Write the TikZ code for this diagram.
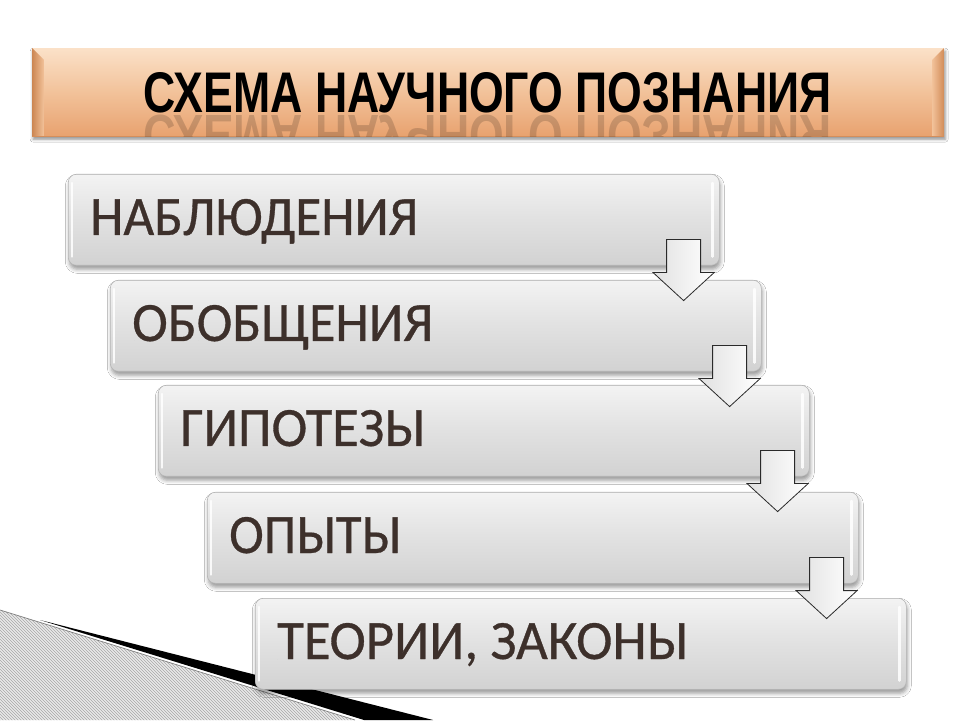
\documentclass[tikz,border=0pt]{standalone}
\usepackage{fontspec}
\setmainfont{Carlito}
\newfontfamily\boxfont[FakeBold=0.6]{Carlito}
\newfontfamily\titlefont{Liberation Sans}
\usetikzlibrary{calc,patterns,shadows.blur}
\definecolor{bantop}{HTML}{FBE1C8}
\definecolor{banmid}{HTML}{F2C29A}
\definecolor{banbot}{HTML}{E8A26F}
\definecolor{banedge}{HTML}{CC8652}
\definecolor{boxtop}{HTML}{F3F3F3}
\definecolor{boxmid}{HTML}{E1E1E1}
\definecolor{boxbot}{HTML}{D2D2D2}
\definecolor{boxline}{HTML}{B5B5B5}
\definecolor{txtcol}{HTML}{3D302B}
\definecolor{hatchbg}{HTML}{E9E9E9}
\definecolor{hatchln}{HTML}{A8A8A8}
\definecolor{arrline}{HTML}{2A2A2A}
\newcommand\blockarrow[1]{%
  \draw[blockarr] ($(#1)+(-17,0)$) -- ++(34,0) -- ++(0,-33) -- ++(13.5,0)
    -- ++(-30.5,-28) -- ++(-30.5,28) -- ++(13.5,0) -- cycle;}
\newcommand\boxtext[2]{\resizebox{#1pt}{36pt}{\boxfont #2}}
\newcommand\titletext{\resizebox{688pt}{40pt}{\titlefont\bfseries СХЕМА НАУЧНОГО ПОЗНАНИЯ}}
\begin{document}
\begin{tikzpicture}[x=1pt,y=1pt,
  banner/.style={anchor=north west, inner sep=0, minimum width=912pt, minimum height=88pt,
    top color=bantop, bottom color=banbot, middle color=banmid,
    blur shadow={shadow xshift=1pt, shadow yshift=-3pt, shadow blur radius=3pt, shadow opacity=45}},
  gbox/.style={anchor=north west, inner sep=0, minimum width=651pt, minimum height=91pt,
    rounded corners=8pt, draw=boxline, line width=.6pt,
    top color=boxtop, bottom color=boxbot, middle color=boxmid,
    blur shadow={shadow xshift=1pt, shadow yshift=-4pt, shadow blur radius=4pt, shadow opacity=40}},
  lbl/.style={anchor=base west, inner sep=0, text=txtcol, font=\fontsize{56}{60}\selectfont},
  hilite/.style={white, line width=2.4pt, line cap=round, opacity=.85},
  blockarr/.style={draw=arrline, line width=.8pt, left color=boxmid, right color=white}
]
\useasboundingbox (0,0) rectangle (960,720);
\fill[white] (0,0) rectangle (960,720);

% bottom-left decoration
\fill[hatchbg] (0,110) -- (355,0) -- (0,0) -- cycle;
\fill[pattern=north west lines, pattern color=hatchln] (0,110) -- (355,0) -- (0,0) -- cycle;
\draw[gray, line width=.7pt] (0,110) -- (355,0);
\fill[black] (40,100) -- (433,0) -- (364,0) -- cycle;

% title banner
\node[banner] (banner) at (32,672) {};
\shade[left color=banedge, right color=banmid] (32,672) -- (44,660) -- (44,584) -- (32,584) -- cycle;
\shade[left color=banmid, right color=banedge!80!banbot] (932,660) -- (944,672) -- (944,584) -- (932,584) -- cycle;
\draw[banedge!70!banbot, line width=.8pt] (banner.south west) -- (banner.south east);
\node[anchor=base west, inner sep=0] (title) at (143,607) {\titletext};
\begin{scope}
  \clip (banner.north west) rectangle (banner.south east);
  \node[anchor=base west, inner sep=0, opacity=.16] (titlerefl) at (143,604)
    {\scalebox{1}[-1]{\titletext}};
\end{scope}

% boxes
\node[gbox] (b1) at (68,546) {};
\node[gbox] (b2) at (110,440) {};
\node[gbox] (b3) at (158,335) {};
\node[gbox] (b4) at (207,228) {};
\node[gbox] (b5) at (255,122) {};
\foreach \n in {b1,b2,b3,b4,b5}{
  \draw[hilite] ($(\n.north west)+(4,-9)$) -- ($(\n.south west)+(4,9)$);
  \draw[hilite] ($(\n.north east)+(-7,-9)$) -- ($(\n.south east)+(-7,9)$);
}
\node[lbl] (t1) at ($(b1.north west)+(22,-61)$) {\boxtext{328}{НАБЛЮДЕНИЯ}};
\node[lbl] (t2) at ($(b2.north west)+(22,-61)$) {\boxtext{301}{ОБОБЩЕНИЯ}};
\node[lbl] (t3) at ($(b3.north west)+(22,-61)$) {\boxtext{245}{ГИПОТЕЗЫ}};
\node[lbl] (t4) at ($(b4.north west)+(22,-61)$) {\boxtext{172}{ОПЫТЫ}};
\node[lbl] (t5) at ($(b5.north west)+(22,-61)$) {\boxtext{411}{ТЕОРИИ, ЗАКОНЫ}};

% arrows between boxes
\coordinate (c1) at ($(b1.south east)+(-36,26)$);
\coordinate (c2) at ($(b2.south east)+(-32,26)$);
\coordinate (c3) at ($(b3.south east)+(-32,26)$);
\coordinate (c4) at ($(b4.south east)+(-32,26)$);
\blockarrow{c1}
\blockarrow{c2}
\blockarrow{c3}
\blockarrow{c4}
\end{tikzpicture}
\end{document}
